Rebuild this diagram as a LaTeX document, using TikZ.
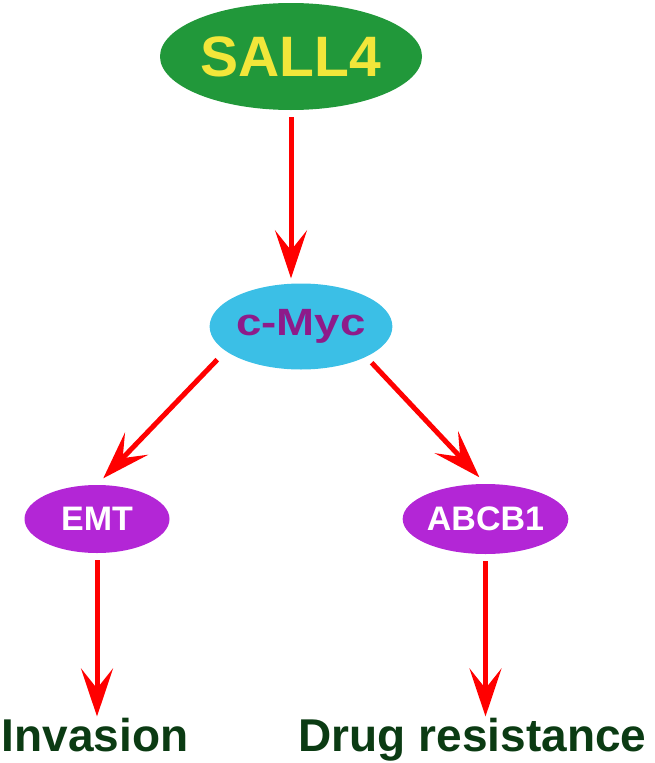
\documentclass[tikz,border=0pt]{standalone}
\usepackage{fontspec}
\usepackage{graphicx}
\setmainfont{Liberation Sans}
\usetikzlibrary{shapes.geometric,arrows.meta}
\definecolor{sallgreen}{HTML}{21983A}
\definecolor{sallyellow}{HTML}{F2E63A}
\definecolor{myccyan}{HTML}{3BBFE6}
\definecolor{mycpurple}{HTML}{8E1B8A}
\definecolor{genepurple}{HTML}{B326D6}
\definecolor{outgreen}{HTML}{0B3B13}
\definecolor{arrred}{HTML}{FF0000}
\tikzset{
  blob/.style={ellipse, inner sep=0pt, draw=none},
  arr/.style={draw=arrred, line width=5pt,
    -{Stealth[length=48pt, width=32pt, inset=20pt]}},
  outcome/.style={anchor=base, inner sep=0pt, text=outgreen,
    font=\bfseries\fontsize{46}{50}\selectfont}
}
\begin{document}
\begin{tikzpicture}[x=1pt, y=-1pt]
\useasboundingbox (0,0) rectangle (654,763);
\node[blob, fill=sallgreen, minimum width=262pt, minimum height=107pt,
  text=sallyellow, font=\bfseries\fontsize{57}{60}\selectfont] (sall) at (291,56.5) {SALL4};
\node[blob, fill=myccyan, minimum width=178pt, minimum height=86pt,
  text=mycpurple, font=\bfseries\fontsize{38}{42}\selectfont] (myc) at (301,326.5) {\scalebox{1.2}[1]{c-Myc}};
\node[blob, fill=genepurple, minimum width=145pt, minimum height=68pt,
  text=white, font=\bfseries\fontsize{34}{38}\selectfont] (emt) at (97,519) {EMT};
\node[blob, fill=genepurple, minimum width=145pt, minimum height=70pt,
  text=white, font=\bfseries\fontsize{34}{38}\selectfont] (abc) at (485.5,519) {ABCB1};
\node[outcome] (inv) at (95,751) {Invasion};
\node[outcome] (drug) at (472.5,751) {Drug resistance};
\draw[arr, shorten <=7pt, shorten >=5pt] (sall.south) -- (sall.south |- myc.north);
\draw[arr, shorten <=12pt, shorten >=9pt] (myc.198) -- (emt.north);
\draw[arr, shorten <=8pt, shorten >=9pt] (myc.335) -- (abc.north);
\draw[arr, shorten <=7pt, shorten >=1pt] (emt.south) -- (emt.south |- inv.north);
\draw[arr, shorten <=7pt, shorten >=1pt] (abc.south) -- (abc.south |- drug.north);
\end{tikzpicture}
\end{document}
